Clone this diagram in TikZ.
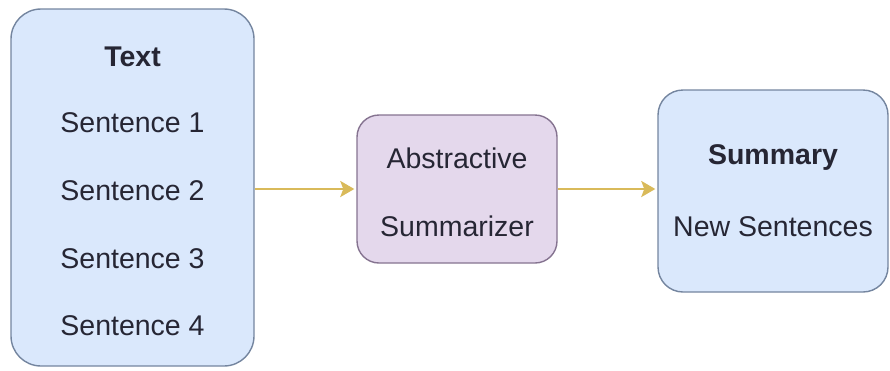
\documentclass[tikz,border=0pt]{standalone}
\usepackage{fontspec}
\setmainfont{Liberation Sans}
\usetikzlibrary{arrows.meta}
\definecolor{bluefill}{HTML}{DAE8FC}
\definecolor{blueline}{HTML}{74859F}
\definecolor{purplefill}{HTML}{E4D8EC}
\definecolor{purpleline}{HTML}{857390}
\definecolor{flowline}{HTML}{D9BA5A}
\definecolor{ink}{HTML}{262634}
\begin{document}
\begin{tikzpicture}[x=1pt,y=-1pt,
  box/.style={draw, line width=1.4pt, inner sep=0pt},
  bluebox/.style={box, fill=bluefill, draw=blueline},
  purplebox/.style={box, fill=purplefill, draw=purpleline},
  label/.style={text=ink, font=\fontsize{28.5}{34}\selectfont, inner sep=0pt, anchor=center},
  heading/.style={label, font=\fontsize{28.5}{34}\selectfont\bfseries},
  flow/.style={draw=flowline, line width=2.5pt, -{Stealth[length=14pt, width=16pt, inset=3pt, fill=flowline]}, shorten >=2pt}
]
\useasboundingbox (0,0) rectangle (890,370);

% input text block
\node[bluebox, rounded corners=30pt, minimum width=243pt, minimum height=357pt] (textbox) at (132.5,187.5) {};
\node[heading] (texthead) at (132.5,57) {Text};
\node[label] (s1) at (132.5,123) {Sentence 1};
\node[label] (s2) at (132.5,191) {Sentence 2};
\node[label] (s3) at (132.5,259) {Sentence 3};
\node[label] (s4) at (132.5,326) {Sentence 4};

% summarizer
\node[purplebox, rounded corners=22pt, minimum width=200pt, minimum height=148pt] (summarizer) at (457,189) {};
\node[label] (abs) at (457,158) {Abstractive};
\node[label] (summ) at (457,226) {Summarizer};

% output block
\node[bluebox, rounded corners=25pt, minimum width=230pt, minimum height=202pt] (summary) at (773,191) {};
\node[heading] (sumhead) at (773,158) {Summary};
\node[label] (newsent) at (773,227) {New Sentences};

% connectors
\draw[flow] (textbox.east |- summarizer.west) -- (summarizer.west);
\draw[flow] (summarizer.east) -- (summarizer.east -| summary.west);
\end{tikzpicture}
\end{document}
